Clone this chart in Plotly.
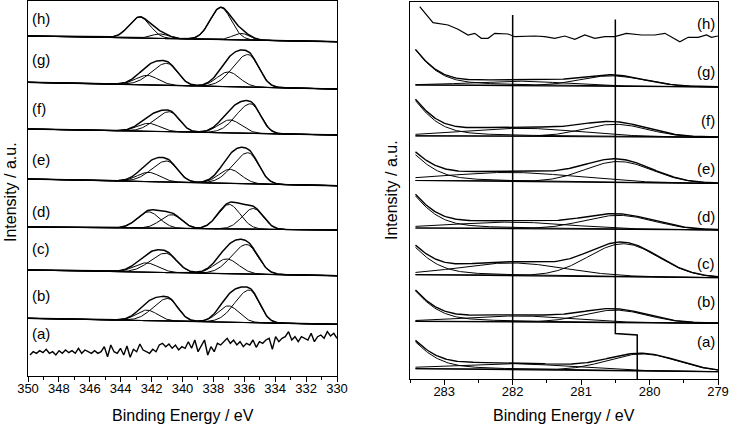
import numpy as np
import plotly.graph_objects as go

# ---------------- data ----------------
# Left panel: Pd 3d region, spectra (b)..(h); each has 4 fitted components
LEFT_LABELS = ["(b)", "(c)", "(d)", "(e)", "(f)", "(g)", "(h)"]
LEFT_BASE = [51.7, 100.3, 146.0, 190.3, 241.0, 287.0, 334.3]   # baseline at 330 eV
LEFT_BG_RISE = [6.0, 5.7, 3.0, 6.7, 6.0, 6.7, 5.7]              # baseline rise to 350 eV
PD_CENTERS = [
    [335.67, 340.95, 337.03, 342.30],
    [335.85, 341.10, 337.14, 342.35],
    [335.42, 340.70, 336.99, 342.20],
    [335.76, 341.02, 336.93, 342.20],
    [335.59, 340.85, 336.93, 342.20],
    [335.76, 341.02, 337.03, 342.30],
    [336.20, 341.45, 337.53, 342.78],
]
PD_HEIGHTS = [
    [32.5, 22.5, 16.3, 10.5],
    [29.5, 19.3, 14.7, 9.3],
    [20.7, 13.7, 24.5, 16.3],
    [31.0, 21.0, 14.0, 9.3],
    [29.5, 20.0, 13.0, 8.0],
    [32.5, 22.0, 14.7, 9.5],
    [6.5, 4.5, 32.0, 21.0],
]
PD_FWHM_HI = [
    [2.2, 2.2, 1.6, 1.6],
    [2.3, 2.3, 1.8, 1.8],
    [1.7, 1.7, 1.7, 1.7],
    [2.3, 2.3, 1.7, 1.7],
    [2.2, 2.2, 1.7, 1.7],
    [2.3, 2.3, 1.7, 1.7],
    [1.3, 1.3, 1.6, 1.6],
]
PD_FWHM_LO = [
    [1.5, 1.5, 1.6, 1.6],
    [1.7, 1.7, 1.8, 1.8],
    [1.5, 1.5, 1.7, 1.7],
    [1.6, 1.6, 1.7, 1.7],
    [1.5, 1.5, 1.7, 1.7],
    [1.6, 1.6, 1.7, 1.7],
    [1.3, 1.3, 1.6, 1.6],
]
# Left spectrum (a): raw noisy signal, 349.9 -> 330 eV
A_LEFT_INT = [21.0, 24.3, 22.7, 25.3, 23.3, 26.7, 22.7, 24.3, 21.0, 25.3, 22.7, 26.0, 23.3, 25.3,
              22.7, 27.7, 22.7, 26.0, 24.3, 22.7, 25.3, 22.7, 24.3, 29.3, 19.3, 31.0, 24.3, 22.7,
              27.7, 21.0, 30.0, 18.7, 26.7, 24.3, 32.0, 26.0, 24.3, 22.7, 26.7, 24.3, 31.0, 32.7,
              29.3, 32.0, 27.7, 31.0, 26.0, 29.3, 27.7, 34.3, 27.7, 36.0, 24.3, 31.0, 36.0, 21.0,
              29.3, 24.3, 32.7, 31.0, 34.3, 37.7, 32.7, 36.0, 31.0, 34.3, 29.3, 32.7, 31.0, 36.0,
              28.7, 34.3, 32.7, 36.0, 37.7, 26.7, 39.3, 34.3, 37.7, 39.3, 44.3, 36.0, 39.3, 34.3,
              39.3, 37.7, 36.0, 42.7, 34.3, 39.3, 41.0, 37.7, 44.3, 40.0, 42.7, 37.7]

# Right panel: spectra (a)..(g) with tail, broad and main components
RIGHT_LABELS = ["(a)", "(b)", "(c)", "(d)", "(e)", "(f)", "(g)"]
RIGHT_BASE = [7.3, 55.7, 101.3, 149.0, 195.5, 241.7, 292.0]
RIGHT_BG_RISE = [3.0, 2.0, 3.0, 2.0, 3.0, 1.5, 2.0]
TAIL_H = [51, 58, 52, 61, 49, 67, 67]
BROAD_C = [282.0, 281.9, 282.0, 282.0, 282.0, 281.85, 281.9]
BROAD_H = [6.0, 6.0, 12.7, 6.5, 9.0, 8.0, 4.5]
BROAD_W = [2.0, 1.8, 1.8, 2.0, 2.2, 2.0, 1.6]
MAIN_C = [280.10, 280.50, 280.38, 280.45, 280.45, 280.50, 280.55]
MAIN_H = [17.0, 12.5, 33.0, 14.0, 21.0, 12.5, 10.5]
MAIN_W = [1.2, 1.1, 1.2, 1.2, 1.15, 1.1, 1.1]
# Right spectrum (h): raw trace
H_RIGHT_BE = [283.358, 283.164, 282.944, 282.798, 282.652, 282.554, 282.458, 282.360, 282.262,
              282.067, 281.969, 281.677, 281.531, 281.385, 281.238, 281.092, 280.946, 280.800,
              280.654, 280.507, 280.338, 280.118, 279.923, 279.776, 279.557, 279.436, 279.290,
              279.168, 279.095, 279.000]
H_RIGHT_INT = [35.3, 19.3, 17.0, 12.7, 7.0, 8.7, 3.7, 3.7, 8.7, 8.0, 5.3, 6.0, 5.3, 3.7, 6.0, 2.7,
               7.0, 3.7, 5.3, 5.3, 8.7, 7.0, 7.0, 8.7, 0.3, 4.7, 4.7, 7.0, 4.7, 6.0]
H_RIGHT_BASE = 337.0
# reference marker lines (binding energy, intensity)
REF1_BE = [282.0, 282.0]
REF1_Y = [364.0, 0.0]
REF2_BE = [280.5, 280.5, 280.18, 280.18]
REF2_Y = [359.5, 45.5, 44.0, 0.0]

# ---------------- layout constants ----------------
W, H = 730, 428
LEFT_LABEL_Y = [81, 127.7, 165, 216.7, 267.7, 316.7, 357.7]
A_LABEL_Y = 42.7
RIGHT_LABEL_Y = [38, 78, 115.7, 162.3, 210.7, 258.3, 307.3]
H_LABEL_Y = 355
FONT = "Arial, Liberation Sans, sans-serif"
K = "#000000"

LN4 = 4 * np.log(2)


def split_gauss(E, c, h, whi, wlo):
    w = np.where(E >= c, whi, wlo)
    return h * np.exp(-LN4 * ((E - c) / w) ** 2)


def pvoigt(E, c, h, w, eta):
    x = (E - c) / w
    return h * ((1 - eta) * np.exp(-LN4 * x ** 2) + eta / (1 + 4 * x ** 2))


fig = go.Figure()


def line(x, y, xa, ya, width=1.0):
    fig.add_trace(go.Scatter(x=x, y=y, mode="lines", xaxis=xa, yaxis=ya,
                             line=dict(color=K, width=width), hoverinfo="skip"))


# ----- left panel -----
EL = np.linspace(350, 330, 401)
for i in range(len(LEFT_LABELS)):
    bg = LEFT_BASE[i] + LEFT_BG_RISE[i] * (EL - 330) / 20.0
    comps = [split_gauss(EL, PD_CENTERS[i][k], PD_HEIGHTS[i][k], PD_FWHM_HI[i][k], PD_FWHM_LO[i][k])
             for k in range(4)]
    line(EL, bg, "x", "y", 1.2)
    for c in comps:
        line(EL, bg + c, "x", "y", 1.0)
    line(EL, bg + sum(comps), "x", "y", 1.5)

EA = np.linspace(349.87, 330.0, len(A_LEFT_INT))
line(EA, A_LEFT_INT, "x", "y", 1.4)

# ----- right panel -----
ER = np.linspace(283.42, 279.0, 222)
for i in range(len(RIGHT_LABELS)):
    bg = RIGHT_BASE[i] + RIGHT_BG_RISE[i] * (ER - 279.0) / (283.42 - 279.0)
    tail = pvoigt(ER, 283.9, TAIL_H[i], 1.0, 0.3)
    broad = split_gauss(ER, BROAD_C[i], BROAD_H[i], BROAD_W[i], BROAD_W[i])
    main = split_gauss(ER, MAIN_C[i], MAIN_H[i], MAIN_W[i], MAIN_W[i])
    line(ER, bg, "x2", "y2", 1.2)
    line(ER, bg + tail, "x2", "y2", 1.0)
    line(ER, bg + broad, "x2", "y2", 1.0)
    line(ER, bg + main, "x2", "y2", 1.0)
    line(ER, bg + tail + broad + main, "x2", "y2", 1.4)

line(H_RIGHT_BE, [H_RIGHT_BASE + v for v in H_RIGHT_INT], "x2", "y2", 1.2)
line(REF1_BE, REF1_Y, "x2", "y2", 1.5)
line(REF2_BE, REF2_Y, "x2", "y2", 1.5)

# ----- labels -----
ann = []
for lab, y in zip(LEFT_LABELS, LEFT_LABEL_Y):
    ann.append(dict(x=349.9, y=y, xref="x", yref="y", text=lab, showarrow=False,
                    xanchor="left", yanchor="middle", font=dict(family=FONT, size=15, color=K)))
ann.append(dict(x=349.9, y=A_LABEL_Y, xref="x", yref="y", text="(a)", showarrow=False,
                xanchor="left", yanchor="middle", font=dict(family=FONT, size=15, color=K)))
for lab, y in zip(RIGHT_LABELS, RIGHT_LABEL_Y):
    ann.append(dict(x=279.02, y=y, xref="x2", yref="y2", text=lab, showarrow=False,
                    xanchor="right", yanchor="middle", font=dict(family=FONT, size=15, color=K)))
ann.append(dict(x=279.02, y=H_LABEL_Y, xref="x2", yref="y2", text="(h)", showarrow=False,
                xanchor="right", yanchor="middle", font=dict(family=FONT, size=15, color=K)))

tfont = dict(family=FONT, size=16, color=K)
ann += [
    dict(x=182.5 / W, y=1 - 415 / H, xref="paper", yref="paper", text="Binding Energy / eV",
         showarrow=False, xanchor="center", yanchor="middle", font=tfont),
    dict(x=564 / W, y=1 - 415 / H, xref="paper", yref="paper", text="Binding Energy / eV",
         showarrow=False, xanchor="center", yanchor="middle", font=tfont),
    dict(x=10 / W, y=1 - 192 / H, xref="paper", yref="paper", text="Intensity / a.u.",
         showarrow=False, textangle=-90, xanchor="center", yanchor="middle", font=tfont),
    dict(x=391 / W, y=1 - 190 / H, xref="paper", yref="paper", text="Intensity / a.u.",
         showarrow=False, textangle=-90, xanchor="center", yanchor="middle", font=tfont),
]

xcommon = dict(showline=True, mirror=True, linecolor=K, linewidth=1.2, ticks="outside",
               ticklen=5, tickwidth=1, tickcolor=K, showgrid=False, zeroline=False,
               automargin=False, ticklabelstandoff=-5,
               tickfont=dict(family=FONT, size=13, color=K))
ycommon = dict(showline=True, mirror=True, linecolor=K, linewidth=1.2, ticks="",
               showticklabels=False, showgrid=False, zeroline=False, automargin=False)

fig.update_layout(
    width=W, height=H, margin=dict(l=0, r=0, t=0, b=0, autoexpand=False),
    paper_bgcolor="white", plot_bgcolor="white", showlegend=False, hovermode=False,
    xaxis=dict(domain=[28 / W, 337 / W], range=[350, 330], tick0=330, dtick=2,
               minor=dict(dtick=1, ticks="outside", ticklen=3, tickcolor=K), anchor="y", **xcommon),
    yaxis=dict(domain=[1 - 376 / H, 1 - 1 / H], range=[0, 375], anchor="x", **ycommon),
    xaxis2=dict(domain=[410 / W, 718 / W], range=[283.5, 279], tick0=279, dtick=1,
                minor=dict(dtick=0.5, ticks="outside", ticklen=3, tickcolor=K), anchor="y2", **xcommon),
    yaxis2=dict(domain=[1 - 379 / H, 1 - 2 / H], range=[0, 377], anchor="x2", **ycommon),
    annotations=ann,
)

fig.write_html("out.html", config={"displayModeBar": False},
               post_script="document.body.style.margin='0';document.body.style.overflow='hidden';")
